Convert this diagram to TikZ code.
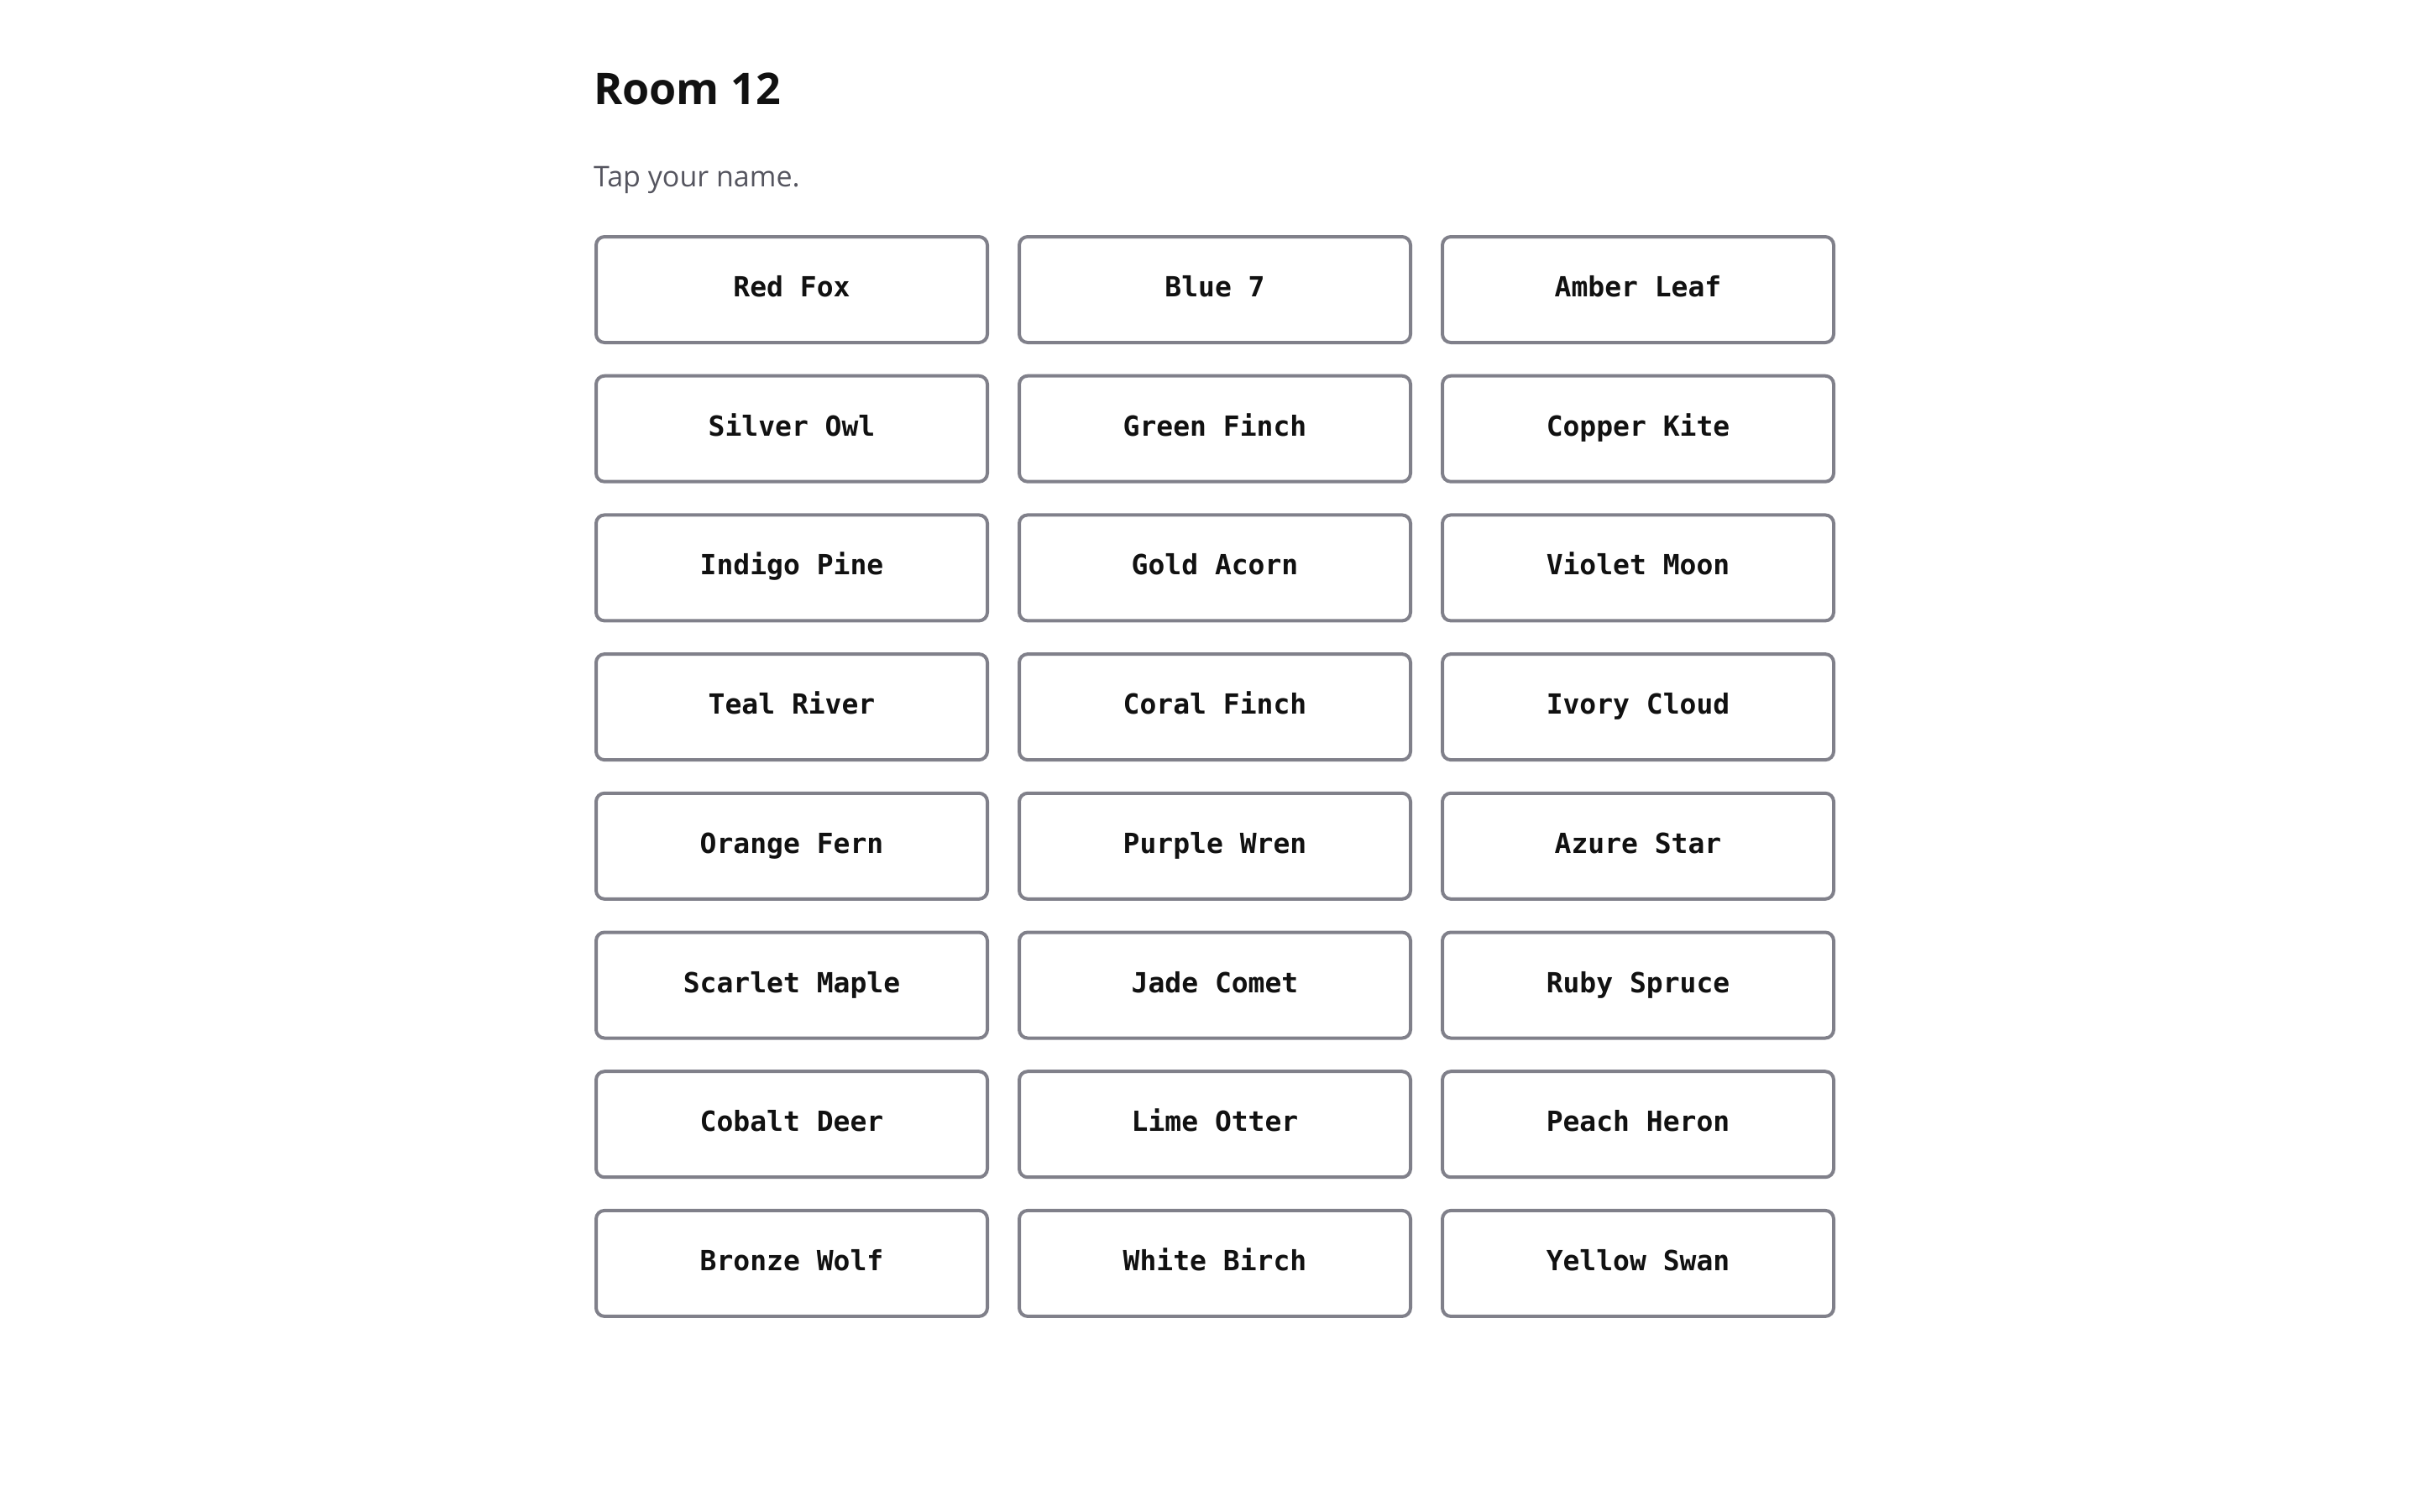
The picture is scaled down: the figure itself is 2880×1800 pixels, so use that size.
\documentclass[tikz,border=0pt]{standalone}
\usepackage{fontspec}
\setmainfont{Open Sans}
\newfontfamily\btnfont{DejaVu Sans Mono}
\definecolor{bord}{HTML}{80808A}
\definecolor{sub}{HTML}{55555F}
\definecolor{ink}{HTML}{111111}
\begin{document}
\begin{tikzpicture}[x=1pt,y=-1pt,
  btn/.style={draw=bord,line width=4pt,rounded corners=10pt,minimum width=466pt,minimum height=126pt,inner sep=0pt,text height=24pt,text depth=7pt,font=\btnfont\bfseries\fontsize{33}{40}\selectfont,text=ink}]
\useasboundingbox (0,0) rectangle (2880,1800);
\node[anchor=base west,inner sep=0pt,font=\bfseries\fontsize{52}{60}\selectfont,text=ink] (title) at (707,124) {Room 12};
\node[anchor=base west,inner sep=0pt,font=\fontsize{34}{40}\selectfont,text=sub] (subt) at (707,222) {Tap your name.};
\def\names{{"Red Fox","Blue 7","Amber Leaf","Silver Owl","Green Finch","Copper Kite","Indigo Pine","Gold Acorn","Violet Moon","Teal River","Coral Finch","Ivory Cloud","Orange Fern","Purple Wren","Azure Star","Scarlet Maple","Jade Comet","Ruby Spruce","Cobalt Deer","Lime Otter","Peach Heron","Bronze Wolf","White Birch","Yellow Swan"}}
\foreach \r in {0,...,7}{
  \foreach \c in {0,1,2}{
    \pgfmathtruncatemacro{\i}{3*\r+\c}
    \pgfmathsetmacro{\nm}{\names[\i]}
    \node[btn] (b\r\c) at ({943+\c*504},{345+\r*165.7}) {\nm};
  }
}
\end{tikzpicture}
\end{document}
